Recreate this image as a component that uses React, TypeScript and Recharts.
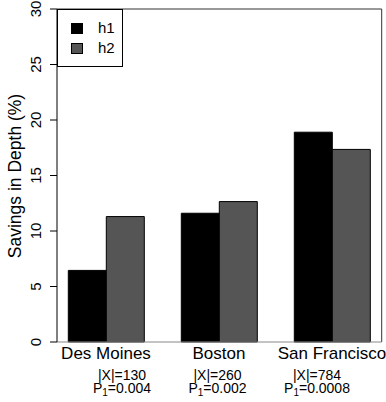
import React from "react";
import { BarChart, Bar, XAxis, YAxis, Legend, CartesianGrid } from "recharts";

// values
const cities = ["Des Moines", "Boston", "San Francisco"];
const h1Savings = [6.45, 11.6, 18.9];
const h2Savings = [11.3, 12.65, 17.35];
const setSizes = ["130", "260", "784"];
const p1Values = ["0.004", "0.002", "0.0008"];
const yTicks = [0, 5, 10, 15, 20, 25, 30];

const data = cities.map((city, i) => ({
  city,
  h1: h1Savings[i],
  h2: h2Savings[i],
}));

const FONT = "'Liberation Sans', Arial, Helvetica, sans-serif";
// the |X| / P1 lines are not centred under the bars in the original
const statShift = [16, -1.5, -15];

const CityTick = (props: any) => {
  const { x, y, payload } = props;
  const i = cities.indexOf(payload.value);
  const sx = x + (statShift[i] ?? 0);
  return (
    <g fontFamily={FONT} fill="#000">
      <text x={x} y={y + 17} textAnchor="middle" fontSize={17}>
        {payload.value}
      </text>
      <text x={sx} y={y + 38} textAnchor="middle" fontSize={14}>
        |X|={setSizes[i]}
      </text>
      <text x={sx} y={y + 50.5} textAnchor="middle" fontSize={14}>
        P<tspan fontSize={10} dy={3}>1</tspan>
        <tspan dy={-3}>={p1Values[i]}</tspan>
      </text>
    </g>
  );
};

const AxisTitle = () => (
  <g transform="translate(21, 176) rotate(-90)">
    <text
      x={0}
      y={0}
      textAnchor="middle"
      fontSize={17.5}
      fontFamily={FONT}
      fill="#000"
    >
      Savings in Depth (%)
    </text>
  </g>
);

const LegendBox = () => (
  <div
    style={{
      position: "relative",
      width: 66,
      height: 58,
      border: "1px solid #000",
      boxSizing: "border-box",
      fontFamily: FONT,
      fontSize: 15,
      background: "#fff",
    }}
  >
    {[
      { name: "h1", color: "#000" },
      { name: "h2", color: "#555" },
    ].map((item, i) => (
      <div key={item.name}>
        <div
          style={{
            position: "absolute",
            left: 13,
            top: 13 + i * 20,
            width: 12,
            height: 11,
            background: item.color,
            border: "1px solid #000",
            boxSizing: "border-box",
          }}
        />
        <div
          style={{
            position: "absolute",
            left: 40,
            top: 9 + i * 20,
            lineHeight: "18px",
          }}
        >
          {item.name}
        </div>
      </div>
    ))}
  </div>
);

export default function App() {
  return (
    <div style={{ position: "absolute", left: 0, top: 0, background: "#fff" }}>
      <BarChart
        width={386}
        height={402}
        data={data}
        margin={{ top: 9, right: 4.3, bottom: 0, left: 0 }}
        barCategoryGap={18.8}
        barGap={0}
      >
        {/* top and right edges of the box around the plot */}
        <CartesianGrid
          stroke="#333"
          strokeOpacity={1}
          horizontalCoordinatesGenerator={({ offset }: any) => [offset.top]}
          verticalCoordinatesGenerator={({ offset }: any) => [
            offset.left + offset.width,
          ]}
        />
        <XAxis
          dataKey="city"
          height={60}
          tickLine={false}
          tickSize={0}
          tickMargin={0}
          interval={0}
          padding={{ left: -7.5, right: -6.8 }}
          axisLine={{ stroke: "#888" }}
          tick={<CityTick />}
        />
        <YAxis
          width={57}
          domain={[0, 30]}
          ticks={yTicks}
          interval={0}
          tickSize={7}
          tickMargin={14}
          tickLine={{ stroke: "#000" }}
          axisLine={{ stroke: "#000" }}
          tick={{
            angle: -90,
            textAnchor: "middle",
            fontSize: 15,
            fontFamily: FONT,
            fill: "#000",
          }}
          label={<AxisTitle />}
        />
        <Legend
          layout="horizontal"
          verticalAlign="middle"
          wrapperStyle={{ left: 57, top: 9, width: 66, height: 58 }}
          content={() => <LegendBox />}
        />
        <Bar dataKey="h1" fill="#000" stroke="#000" isAnimationActive={false} />
        <Bar dataKey="h2" fill="#555" stroke="#000" isAnimationActive={false} />
      </BarChart>
    </div>
  );
}
